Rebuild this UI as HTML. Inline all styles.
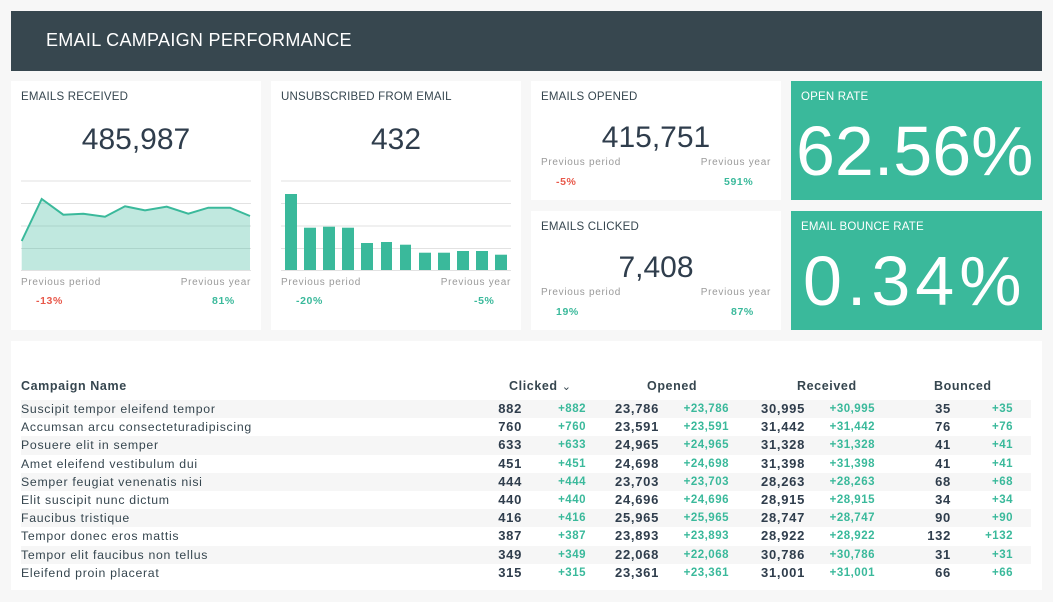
<!DOCTYPE html>
<html><head><meta charset="utf-8"><style>
*{margin:0;padding:0;box-sizing:border-box}
body{width:1053px;height:602px;background:#f7f7f7;font-family:"Liberation Sans",sans-serif;position:relative;overflow:hidden;color:#36464f}
.a{position:absolute}
.card{position:absolute;background:#fff}
.g{background:#3ab99b}
.t{position:absolute;font-size:11.5px;letter-spacing:0.2px;white-space:nowrap}
.big{position:absolute;font-size:30px;width:100%;text-align:center;color:#2f3d4c}
.pl{position:absolute;font-size:10px;color:#9a9a9a;letter-spacing:0.7px;white-space:nowrap}
.pv{position:absolute;font-size:10.5px;font-weight:bold;letter-spacing:0.6px}
.red{color:#e8584a}.grn{color:#3ab99b}
.hv{position:absolute;color:#fff;font-size:70px;white-space:nowrap}
.row{position:absolute;left:21px;width:1010px;height:18.2px;font-size:12.3px;letter-spacing:0.7px;line-height:18.2px}
.row.s{background:#f6f6f6}
.row span{position:absolute;white-space:nowrap}
.n{font-weight:bold;font-size:13px;text-align:right;color:#2f3d4c}
.d{font-weight:bold;font-size:11.5px;color:#3ab99b;text-align:right;letter-spacing:0.5px}
.h{position:absolute;top:379px;font-weight:bold;font-size:12.5px;letter-spacing:0.6px}
</style></head><body>
<div class="a" style="left:11px;top:11px;width:1031px;height:60px;background:#37474f"></div>
<div class="a" style="left:46px;top:30px;color:#fff;font-size:18px;letter-spacing:0.3px">EMAIL CAMPAIGN PERFORMANCE</div>

<div class="card" style="left:11px;top:81px;width:250px;height:249px">
<div class="t" style="left:10px;top:10px">EMAILS RECEIVED</div>
<div class="big" style="top:42px">485,987</div>
<div class="pl" style="left:10px;top:196px">Previous period</div>
<div class="pl" style="right:10px;top:196px">Previous year</div>
<div class="pv red" style="left:25px;top:214px">-13%</div>
<div class="pv grn" style="left:201px;top:214px">81%</div>
</div>
<div class="card" style="left:271px;top:81px;width:250px;height:249px">
<div class="t" style="left:10px;top:10px">UNSUBSCRIBED FROM EMAIL</div>
<div class="big" style="top:42px">432</div>
<div class="pl" style="left:10px;top:196px">Previous period</div>
<div class="pl" style="right:10px;top:196px">Previous year</div>
<div class="pv grn" style="left:25px;top:214px">-20%</div>
<div class="pv grn" style="left:203px;top:214px">-5%</div>
</div>
<svg class="a" style="left:0;top:0" width="1053" height="300">
<g stroke="#e2e2e2" stroke-width="1">
<line x1="21" x2="251" y1="181" y2="181"/><line x1="21" x2="251" y1="203.5" y2="203.5"/><line x1="21" x2="251" y1="226" y2="226"/><line x1="21" x2="251" y1="248.5" y2="248.5"/><line x1="21" x2="251" y1="270.5" y2="270.5"/>
<line x1="281" x2="511" y1="181" y2="181"/><line x1="281" x2="511" y1="203.5" y2="203.5"/><line x1="281" x2="511" y1="226" y2="226"/><line x1="281" x2="511" y1="248.5" y2="248.5"/><line x1="281" x2="511" y1="270.5" y2="270.5"/>
</g>
<polygon fill="#3ab99b" fill-opacity="0.32" points="21.7,270 21.7,241 41.7,199 63.3,214.7 83.3,213.7 105,216.7 125,206.3 145,210.3 166.7,206.7 188.3,213.7 208.3,207.7 230,207.7 250,216 250,270"/>
<polyline fill="none" stroke="#3ab99b" stroke-width="2" points="21.7,241 41.7,199 63.3,214.7 83.3,213.7 105,216.7 125,206.3 145,210.3 166.7,206.7 188.3,213.7 208.3,207.7 230,207.7 250,216"/>
<g fill="#3ab99b">
<rect x="285" y="194" width="12" height="76"/><rect x="304" y="227.7" width="12" height="42.3"/><rect x="323" y="226.7" width="12" height="43.3"/><rect x="342" y="227.7" width="12" height="42.3"/><rect x="361" y="243" width="12" height="27"/><rect x="381" y="242" width="11" height="28"/><rect x="400" y="244.7" width="11" height="25.3"/><rect x="419" y="252.7" width="12" height="17.3"/><rect x="438" y="252.7" width="12" height="17.3"/><rect x="457" y="251" width="12" height="19"/><rect x="476" y="251" width="12" height="19"/><rect x="495" y="254.7" width="12" height="15.3"/>
</g></svg>

<div class="card" style="left:531px;top:81px;width:250px;height:119px">
<div class="t" style="left:10px;top:10px">EMAILS OPENED</div>
<div class="big" style="top:40px">415,751</div>
<div class="pl" style="left:10px;top:76px">Previous period</div>
<div class="pl" style="right:10px;top:76px">Previous year</div>
<div class="pv red" style="left:25px;top:95px">-5%</div>
<div class="pv grn" style="left:193px;top:95px">591%</div>
</div>
<div class="card" style="left:531px;top:211px;width:250px;height:119px">
<div class="t" style="left:10px;top:10px">EMAILS CLICKED</div>
<div class="big" style="top:40px">7,408</div>
<div class="pl" style="left:10px;top:76px">Previous period</div>
<div class="pl" style="right:10px;top:76px">Previous year</div>
<div class="pv grn" style="left:25px;top:95px">19%</div>
<div class="pv grn" style="left:200px;top:95px">87%</div>
</div>
<div class="card g" style="left:791px;top:81px;width:251px;height:119px">
<div class="t" style="left:10px;top:10px;color:#fff">OPEN RATE</div>
<div class="hv" style="left:5px;top:30px">62.56%</div>
</div>
<div class="card g" style="left:791px;top:211px;width:251px;height:119px">
<div class="t" style="left:10px;top:10px;color:#fff">EMAIL BOUNCE RATE</div>
<div class="hv" style="left:12px;top:30px;letter-spacing:5px">0.34%</div>
</div>

<div class="card" style="left:11px;top:341px;width:1031px;height:249px"></div>
<div class="h" style="left:21px">Campaign Name</div>
<div class="h" style="left:509px">Clicked <span style="font-weight:normal;font-size:11px">&#8964;</span></div>
<div class="h" style="left:647px">Opened</div>
<div class="h" style="left:797px">Received</div>
<div class="h" style="left:934px">Bounced</div>

<div class="row s" style="top:400px"><span style="left:0">Suscipit tempor eleifend tempor</span><span class="n" style="right:509px">882</span><span class="d" style="right:445px">+882</span><span class="n" style="right:372px">23,786</span><span class="d" style="right:302px">+23,786</span><span class="n" style="right:226px">30,995</span><span class="d" style="right:156px">+30,995</span><span class="n" style="right:80px">35</span><span class="d" style="right:18px">+35</span></div>
<div class="row" style="top:418.2px"><span style="left:0">Accumsan arcu consecteturadipiscing</span><span class="n" style="right:509px">760</span><span class="d" style="right:445px">+760</span><span class="n" style="right:372px">23,591</span><span class="d" style="right:302px">+23,591</span><span class="n" style="right:226px">31,442</span><span class="d" style="right:156px">+31,442</span><span class="n" style="right:80px">76</span><span class="d" style="right:18px">+76</span></div>
<div class="row s" style="top:436.4px"><span style="left:0">Posuere elit in semper</span><span class="n" style="right:509px">633</span><span class="d" style="right:445px">+633</span><span class="n" style="right:372px">24,965</span><span class="d" style="right:302px">+24,965</span><span class="n" style="right:226px">31,328</span><span class="d" style="right:156px">+31,328</span><span class="n" style="right:80px">41</span><span class="d" style="right:18px">+41</span></div>
<div class="row" style="top:454.6px"><span style="left:0">Amet eleifend vestibulum dui</span><span class="n" style="right:509px">451</span><span class="d" style="right:445px">+451</span><span class="n" style="right:372px">24,698</span><span class="d" style="right:302px">+24,698</span><span class="n" style="right:226px">31,398</span><span class="d" style="right:156px">+31,398</span><span class="n" style="right:80px">41</span><span class="d" style="right:18px">+41</span></div>
<div class="row s" style="top:472.8px"><span style="left:0">Semper feugiat venenatis nisi</span><span class="n" style="right:509px">444</span><span class="d" style="right:445px">+444</span><span class="n" style="right:372px">23,703</span><span class="d" style="right:302px">+23,703</span><span class="n" style="right:226px">28,263</span><span class="d" style="right:156px">+28,263</span><span class="n" style="right:80px">68</span><span class="d" style="right:18px">+68</span></div>
<div class="row" style="top:491px"><span style="left:0">Elit suscipit nunc dictum</span><span class="n" style="right:509px">440</span><span class="d" style="right:445px">+440</span><span class="n" style="right:372px">24,696</span><span class="d" style="right:302px">+24,696</span><span class="n" style="right:226px">28,915</span><span class="d" style="right:156px">+28,915</span><span class="n" style="right:80px">34</span><span class="d" style="right:18px">+34</span></div>
<div class="row s" style="top:509.2px"><span style="left:0">Faucibus tristique</span><span class="n" style="right:509px">416</span><span class="d" style="right:445px">+416</span><span class="n" style="right:372px">25,965</span><span class="d" style="right:302px">+25,965</span><span class="n" style="right:226px">28,747</span><span class="d" style="right:156px">+28,747</span><span class="n" style="right:80px">90</span><span class="d" style="right:18px">+90</span></div>
<div class="row" style="top:527.4px"><span style="left:0">Tempor donec eros mattis</span><span class="n" style="right:509px">387</span><span class="d" style="right:445px">+387</span><span class="n" style="right:372px">23,893</span><span class="d" style="right:302px">+23,893</span><span class="n" style="right:226px">28,922</span><span class="d" style="right:156px">+28,922</span><span class="n" style="right:80px">132</span><span class="d" style="right:18px">+132</span></div>
<div class="row s" style="top:545.6px"><span style="left:0">Tempor elit faucibus non tellus</span><span class="n" style="right:509px">349</span><span class="d" style="right:445px">+349</span><span class="n" style="right:372px">22,068</span><span class="d" style="right:302px">+22,068</span><span class="n" style="right:226px">30,786</span><span class="d" style="right:156px">+30,786</span><span class="n" style="right:80px">31</span><span class="d" style="right:18px">+31</span></div>
<div class="row" style="top:563.8px"><span style="left:0">Eleifend proin placerat</span><span class="n" style="right:509px">315</span><span class="d" style="right:445px">+315</span><span class="n" style="right:372px">23,361</span><span class="d" style="right:302px">+23,361</span><span class="n" style="right:226px">31,001</span><span class="d" style="right:156px">+31,001</span><span class="n" style="right:80px">66</span><span class="d" style="right:18px">+66</span></div>
</body></html>
